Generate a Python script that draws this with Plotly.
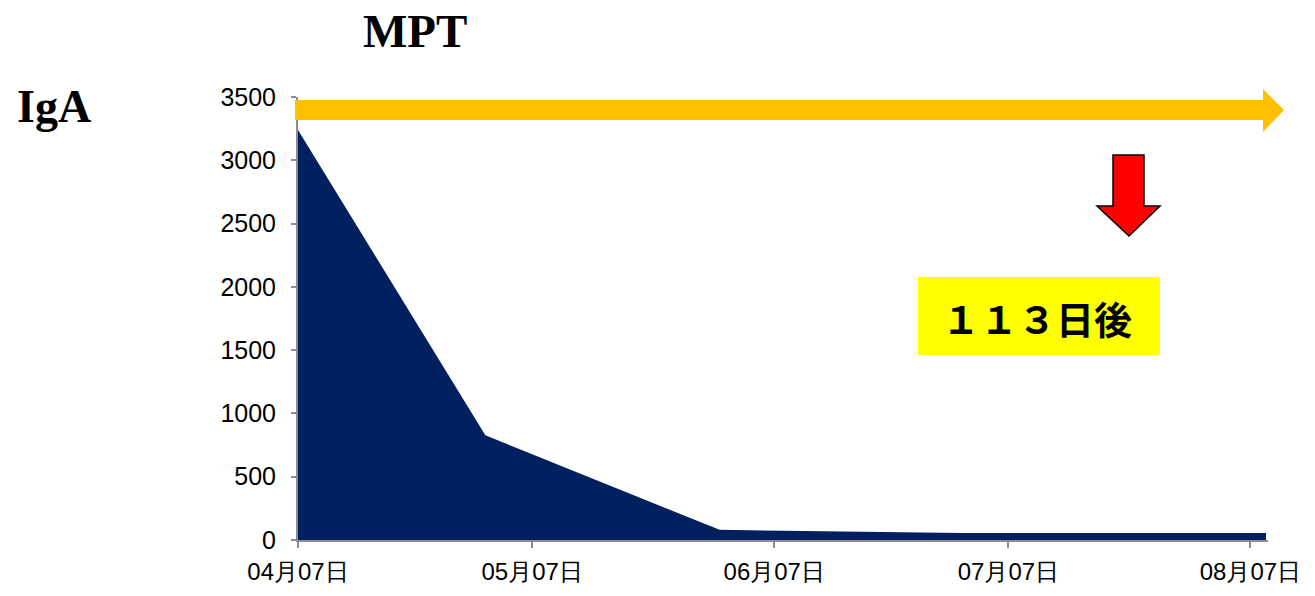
import plotly.graph_objects as go

# IgA measurements over time
dates = ["2010-04-07", "2010-05-01", "2010-05-31", "2010-07-01", "2010-08-09"]
iga = [3240, 827, 80, 55, 55]

y_ticks = [0, 500, 1000, 1500, 2000, 2500, 3000, 3500]
x_ticks = ["2010-04-07", "2010-05-07", "2010-06-07", "2010-07-07", "2010-08-07"]

W, H = 1315, 596
ML, MR, MT, MB = 298, 47, 97, 56
PW, PH = W - ML - MR, H - MT - MB


def px(x):
    return (x - ML) / PW


def py(y):
    return (H - MB - y) / PH


def path(points):
    return "M " + " L ".join(f"{px(x):.5f},{py(y):.5f}" for x, y in points) + " Z"


fig = go.Figure()
fig.add_trace(go.Scatter(
    x=dates, y=iga, mode="lines", fill="tozeroy",
    line=dict(width=0, color="#002060"), fillcolor="#002060",
    hoverinfo="skip", showlegend=False,
))

axis_common = dict(
    showgrid=False, zeroline=False, showline=True, linecolor="#8c8c8c", linewidth=2,
    ticks="outside", tickcolor="#8c8c8c", tickwidth=2,
)

fig.update_layout(
    width=W, height=H,
    margin=dict(l=ML, r=MR, t=MT, b=MB),
    paper_bgcolor="white", plot_bgcolor="white",
    xaxis=dict(type="date", range=["2010-04-07", "2010-08-09 06:00"],
               tickvals=x_ticks, tickformat="%m月%d日", ticklen=6,
               ticklabelstandoff=3,
               tickfont=dict(family="Liberation Sans, Arial", size=24, color="#000000"),
               **axis_common),
    yaxis=dict(range=[0, 3500], tickvals=y_ticks, ticklen=5,
               ticklabelstandoff=10,
               tickfont=dict(family="Liberation Sans, Arial", size=25, color="#000000"),
               **axis_common),
)

# long horizontal arrow (orange)
fig.add_shape(type="path", xref="paper", yref="paper", layer="above",
              path=path([(295, 100), (1263, 100), (1263, 89), (1284, 110),
                         (1263, 132), (1263, 120), (295, 120)]),
              fillcolor="#FFC000", line=dict(width=0))

# red downward arrow
fig.add_shape(type="path", xref="paper", yref="paper", layer="above",
              path=path([(1113, 155), (1144, 155), (1144, 206), (1160, 206),
                         (1129, 236), (1097, 206), (1113, 206)]),
              fillcolor="#FF0000", line=dict(width=1.5, color="#000000"))

# highlighted label box
fig.add_shape(type="rect", xref="paper", yref="paper", layer="below",
              x0=px(918), x1=px(1160), y0=py(355), y1=py(277),
              fillcolor="#FFFF00", line=dict(width=0))
fig.add_annotation(xref="paper", yref="paper", x=px(1037), y=py(317),
                   xanchor="center", yanchor="middle",
                   text="<b>１１３日後</b>", showarrow=False,
                   font=dict(family="Noto Sans CJK JP", size=38, color="#000000"))

fig.add_annotation(xref="paper", yref="paper", x=px(415), y=py(31),
                   xanchor="center", yanchor="middle",
                   text="<b>MPT</b>", showarrow=False,
                   font=dict(family="Liberation Serif, Times New Roman", size=47, color="#000000"))
fig.add_annotation(xref="paper", yref="paper", x=px(54), y=py(106),
                   xanchor="center", yanchor="middle",
                   text="<b>IgA</b>", showarrow=False,
                   font=dict(family="Liberation Serif, Times New Roman", size=46, color="#000000"))

fig.write_html("out.html")
